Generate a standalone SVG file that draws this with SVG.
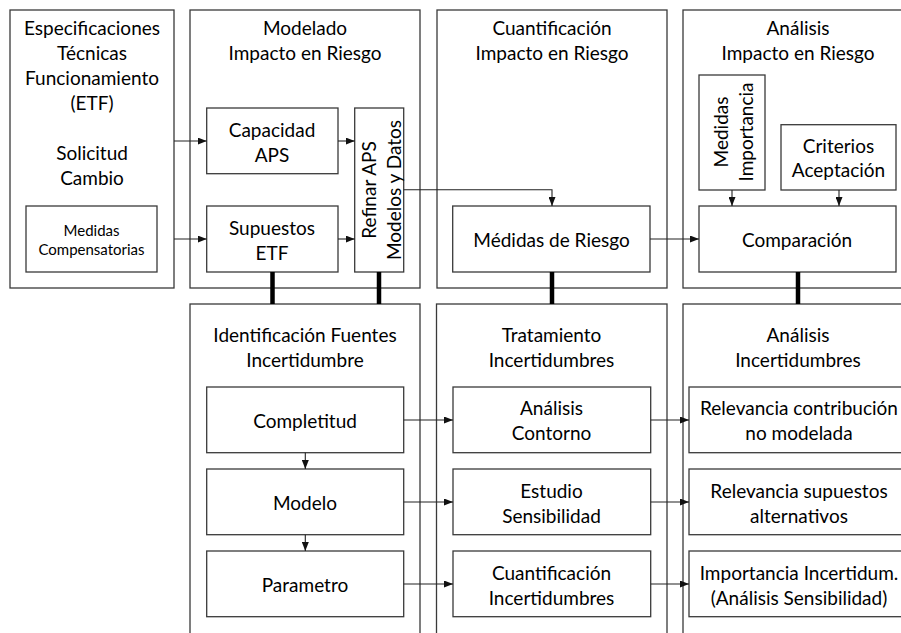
<svg xmlns="http://www.w3.org/2000/svg" width="901" height="633" viewBox="0 0 901 633">
<defs>
<style>
.box{fill:#fff;stroke:#3a3a3a;stroke-width:1.3}
.t{font-family:Lato,"Liberation Sans",sans-serif;font-size:19px;fill:#000;text-anchor:middle;dominant-baseline:central}
.s{font-size:15px}
.c{fill:none;stroke:#222;stroke-width:1.1}
.k{stroke:#000;stroke-width:4.5}
</style>
<marker id="a" markerWidth="9" markerHeight="7" refX="9" refY="3.5" orient="auto" markerUnits="userSpaceOnUse">
<path d="M0,0 L9,3.5 L0,7 z" fill="#111"/>
</marker>
</defs>
<rect width="901" height="633" fill="#fff"/>

<g id="etf">
<rect class="box" x="10" y="10" width="164" height="278"/>
<text class="t" x="92" y="27">Especificaciones</text>
<text class="t" x="92" y="52">Técnicas</text>
<text class="t" x="92" y="77">Funcionamiento</text>
<text class="t" x="92" y="102">(ETF)</text>
<text class="t" x="92" y="152">Solicitud</text>
<text class="t" x="92" y="177">Cambio</text>
</g>
<g id="medidas-compensatorias">
<rect class="box" x="26" y="206" width="131" height="66"/>
<text class="t s" x="91.5" y="230">Medidas</text>
<text class="t s" x="91.5" y="249">Compensatorias</text>
</g>

<g id="modelado">
<rect class="box" x="190" y="10" width="230" height="278"/>
<text class="t" x="305" y="27">Modelado</text>
<text class="t" x="305" y="52">Impacto en Riesgo</text>
</g>
<g id="capacidad">
<rect class="box" x="206.7" y="108" width="131.3" height="65.7"/>
<text class="t" x="272" y="129">Capacidad</text>
<text class="t" x="272" y="154">APS</text>
</g>
<g id="supuestos">
<rect class="box" x="206.7" y="206" width="131.3" height="66"/>
<text class="t" x="272" y="227">Supuestos</text>
<text class="t" x="272" y="252">ETF</text>
</g>
<g id="refinar">
<rect class="box" x="354.7" y="108" width="49" height="164"/>
<text class="t" transform="translate(368,190) rotate(-90)">Refinar APS</text>
<text class="t" transform="translate(393,190) rotate(-90)">Modelos y Datos</text>
</g>

<g id="cuantificacion">
<rect class="box" x="437" y="10" width="230" height="278"/>
<text class="t" x="552" y="27">Cuantificación</text>
<text class="t" x="552" y="52">Impacto en Riesgo</text>
</g>
<g id="medidas-riesgo">
<rect class="box" x="452.7" y="206" width="197.3" height="66"/>
<text class="t" x="551.5" y="239">Médidas de Riesgo</text>
</g>

<g id="analisis">
<rect class="box" x="683" y="10" width="240" height="278"/>
<text class="t" x="798" y="27">Análisis</text>
<text class="t" x="798" y="52">Impacto en Riesgo</text>
</g>
<g id="medidas-importancia">
<rect class="box" x="699" y="75" width="66" height="115"/>
<text class="t" transform="translate(720,132) rotate(-90)">Medidas</text>
<text class="t" transform="translate(745,132) rotate(-90)">Importancia</text>
</g>
<g id="criterios">
<rect class="box" x="781" y="124.7" width="115" height="65.3"/>
<text class="t" x="838.5" y="145">Criterios</text>
<text class="t" x="838.5" y="169">Aceptación</text>
</g>
<g id="comparacion">
<rect class="box" x="699" y="206" width="197" height="66"/>
<text class="t" x="797" y="239">Comparación</text>
</g>

<g id="identificacion">
<rect class="box" x="190" y="304" width="230" height="340"/>
<text class="t" x="305" y="334">Identificación Fuentes</text>
<text class="t" x="305" y="359">Incertidumbre</text>
</g>
<g id="completitud">
<rect class="box" x="206.7" y="387" width="197" height="65.7"/>
<text class="t" x="305" y="420">Completitud</text>
</g>
<g id="modelo">
<rect class="box" x="206.7" y="469" width="197" height="65.7"/>
<text class="t" x="305" y="502">Modelo</text>
</g>
<g id="parametro">
<rect class="box" x="206.7" y="551" width="197" height="65.7"/>
<text class="t" x="305" y="584">Parametro</text>
</g>

<g id="tratamiento">
<rect class="box" x="436.5" y="304" width="230.5" height="340"/>
<text class="t" x="551.5" y="334">Tratamiento</text>
<text class="t" x="551.5" y="359">Incertidumbres</text>
</g>
<g id="analisis-contorno">
<rect class="box" x="453" y="387" width="197.7" height="65.7"/>
<text class="t" x="551.5" y="407.7">Análisis</text>
<text class="t" x="551.5" y="432.7">Contorno</text>
</g>
<g id="estudio-sensibilidad">
<rect class="box" x="453" y="469" width="197.7" height="65.7"/>
<text class="t" x="551.5" y="490">Estudio</text>
<text class="t" x="551.5" y="515">Sensibilidad</text>
</g>
<g id="cuantificacion-incertidumbres">
<rect class="box" x="453" y="551" width="197.7" height="65.7"/>
<text class="t" x="551.5" y="572.7">Cuantificación</text>
<text class="t" x="551.5" y="597.7">Incertidumbres</text>
</g>

<g id="analisis-incertidumbres">
<rect class="box" x="683" y="304" width="240" height="340"/>
<text class="t" x="798" y="334">Análisis</text>
<text class="t" x="798" y="359">Incertidumbres</text>
</g>
<g id="relevancia-contribucion">
<rect class="box" x="689" y="387" width="230" height="65.7"/>
<text class="t" x="799" y="407.7">Relevancia contribución</text>
<text class="t" x="799" y="432.7">no modelada</text>
</g>
<g id="relevancia-supuestos">
<rect class="box" x="689" y="469" width="230" height="65.7"/>
<text class="t" x="799" y="490">Relevancia supuestos</text>
<text class="t" x="799" y="515">alternativos</text>
</g>
<g id="importancia-incertidum">
<rect class="box" x="689" y="551" width="230" height="65.7"/>
<text class="t" x="799" y="572.7">Importancia Incertidum.</text>
<text class="t" x="799" y="597.7">(Análisis Sensibilidad)</text>
</g>

<g id="connectors">
<line class="c" x1="174" y1="141" x2="206.7" y2="141" marker-end="url(#a)"/>
<line class="c" x1="174" y1="239" x2="206.7" y2="239" marker-end="url(#a)"/>
<line class="c" x1="338" y1="141" x2="354.7" y2="141" marker-end="url(#a)"/>
<line class="c" x1="338" y1="239" x2="354.7" y2="239" marker-end="url(#a)"/>
<polyline class="c" points="403.7,189.7 552,189.7 552,206" marker-end="url(#a)"/>
<line class="c" x1="650" y1="239" x2="699" y2="239" marker-end="url(#a)"/>
<line class="c" x1="732" y1="190" x2="732" y2="206" marker-end="url(#a)"/>
<line class="c" x1="839" y1="190" x2="839" y2="206" marker-end="url(#a)"/>
<line class="c" x1="403.7" y1="420" x2="453" y2="420" marker-end="url(#a)"/>
<line class="c" x1="403.7" y1="502" x2="453" y2="502" marker-end="url(#a)"/>
<line class="c" x1="403.7" y1="584" x2="453" y2="584" marker-end="url(#a)"/>
<line class="c" x1="650.7" y1="420" x2="689" y2="420" marker-end="url(#a)"/>
<line class="c" x1="650.7" y1="502" x2="689" y2="502" marker-end="url(#a)"/>
<line class="c" x1="650.7" y1="584" x2="689" y2="584" marker-end="url(#a)"/>
<line class="c" x1="305.3" y1="452.7" x2="305.3" y2="469" marker-end="url(#a)"/>
<line class="c" x1="305.3" y1="534.7" x2="305.3" y2="551" marker-end="url(#a)"/>
<line class="k" x1="272.5" y1="272" x2="272.5" y2="304"/>
<line class="k" x1="379" y1="272" x2="379" y2="304"/>
<line class="k" x1="552" y1="272" x2="552" y2="304"/>
<line class="k" x1="798" y1="272" x2="798" y2="304"/>
</g>
</svg>
